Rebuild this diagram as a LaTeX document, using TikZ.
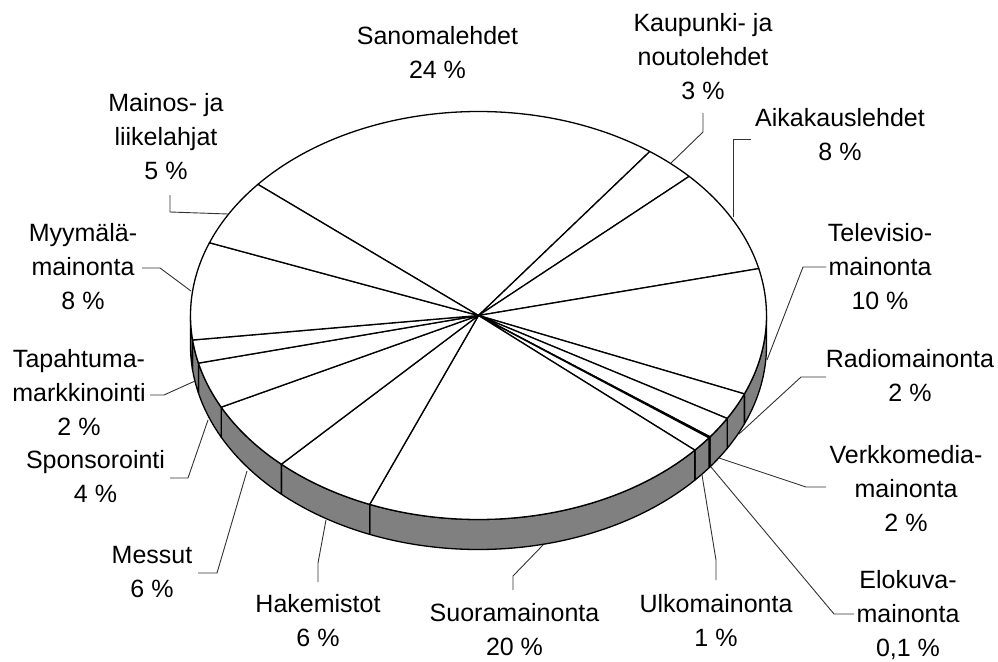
\documentclass[tikz,border=0pt]{standalone}
\usepackage{fontspec}
\setmainfont{Liberation Sans}
\definecolor{sidegray}{RGB}{128,128,128}
\definecolor{leadgray}{RGB}{50,50,50}
\begin{document}
\begin{tikzpicture}[x=1pt,y=-1pt,
  slice/.style={fill=white,draw=black,line width=1.3pt,line join=round},
  sideface/.style={fill=sidegray,draw=black,line width=1.3pt,line join=round},
  leader/.style={draw=leadgray,line width=0.9pt},
  lbl/.style={align=center,font=\fontsize{25}{34}\selectfont,inner sep=0pt,outer sep=0pt,anchor=north}]
\useasboundingbox (0,0) rectangle (998,661);
\coordinate (C) at (478.5,315.5);
% side of the pie (front half)
\foreach \a/\b in {0/-22.6,-22.6/-30.3,-30.3/-36.5,-36.5/-36.85,-36.85/-41.3,-41.3/-112.2,-112.2/-133.2,-133.2/-153.3,-153.3/-166.5,-166.5/-173.1,-173.1/-180}
  \filldraw[sideface] (C) ++(\a:288pt and 204pt)
     arc[start angle=\a,end angle=\b,x radius=288pt,y radius=204pt]
     -- ++(0,-30pt)
     arc[start angle=\b,end angle=\a,x radius=288pt,y radius=204pt] -- cycle;
% top face
\foreach \a/\b in {140/53.5,53.5/43,43/13.3,13.3/-22.6,-22.6/-30.3,-30.3/-36.5,-36.5/-36.85,-36.85/-41.3,-41.3/-112.2,-112.2/-133.2,-133.2/-153.3,-153.3/-166.5,-166.5/-173.1,-173.1/-200.9,-200.9/-220}
  \filldraw[slice] (C) -- ++(\a:288pt and 204pt)
     arc[start angle=\a,end angle=\b,x radius=288pt,y radius=204pt] -- cycle;
% labels
\node[lbl] (sanom) at (437.5,20.7) {\strut Sanomalehdet\\\strut 24 \%};
\node[lbl] (kaup) at (703,7.7) {\strut Kaupunki- ja\\\strut noutolehdet\\\strut 3 \%};
\node[lbl] (aika) at (840,102.7) {\strut Aikakauslehdet\\\strut 8 \%};
\node[lbl] (tv) at (880,217.7) {\strut Televisio-\\\strut mainonta\\\strut 10 \%};
\node[lbl] (radio) at (910,343.2) {\strut Radiomainonta\\\strut 2 \%};
\node[lbl] (verkko) at (906,439.2) {\strut Verkkomedia-\\\strut mainonta\\\strut 2 \%};
\node[lbl] (eloku) at (908,564.2) {\strut Elokuva-\\\strut mainonta\\0,1 \%};
\node[lbl] (ulko) at (716,588.7) {\strut Ulkomainonta\\\strut 1 \%};
\node[lbl] (suora) at (514.5,597.2) {\strut Suoramainonta\\20 \%};
\node[lbl] (hak) at (318,588.7) {\strut Hakemistot\\\strut 6 \%};
\node[lbl] (messut) at (152,539.7) {\strut Messut\\\strut 6 \%};
\node[lbl] (spons) at (95.5,444.2) {\strut Sponsorointi\\\strut 4 \%};
\node[lbl] (tapaht) at (79,343.2) {\strut Tapahtuma-\\\strut markkinointi\\\strut 2 \%};
\node[lbl] (myym) at (83,217.7) {\strut Myymälä-\\\strut mainonta\\\strut 8 \%};
\node[lbl] (mainos) at (166,87.7) {\strut Mainos- ja\\\strut liikelahjat\\\strut 5 \%};
% leader lines
\coordinate (kA) at (703,113); \coordinate (kB) at (703,132); \coordinate (kP) at (671,163);
\coordinate (aA) at (751,139); \coordinate (aB) at (733,139); \coordinate (aP) at (733,217);
\coordinate (tA) at (826,267); \coordinate (tB) at (803,267); \coordinate (tP) at (767,360);
\coordinate (rA) at (826,377); \coordinate (rB) at (801,377); \coordinate (rP) at (739,434);
\coordinate (vA) at (826,487); \coordinate (vB) at (806,487); \coordinate (vP) at (719,458);
\coordinate (eA) at (854,614); \coordinate (eB) at (834,614); \coordinate (eP) at (711,467);
\coordinate (uA) at (716,580); \coordinate (uB) at (716,560); \coordinate (uP) at (702,475);
\coordinate (sA) at (513,590); \coordinate (sB) at (513,576); \coordinate (sP) at (543,545);
\coordinate (hA) at (318,582); \coordinate (hB) at (318,563); \coordinate (hP) at (326,520);
\coordinate (mA) at (198,573); \coordinate (mB) at (217,573); \coordinate (mP) at (247,471);
\coordinate (pA) at (170,478); \coordinate (pB) at (188,478); \coordinate (pP) at (208,420);
\coordinate (gA) at (150,395); \coordinate (gB) at (164,395); \coordinate (gP) at (195,381);
\coordinate (yA) at (142,268); \coordinate (yB) at (160,268); \coordinate (yP) at (191,291);
\coordinate (lA) at (170,195); \coordinate (lB) at (170,212); \coordinate (lP) at (228,214);
\foreach \p in {k,a,t,r,v,e,u,s,h,m,p,g,y,l}
  \draw[leader] (\p A) -- (\p B) -- (\p P);
\end{tikzpicture}
\end{document}
